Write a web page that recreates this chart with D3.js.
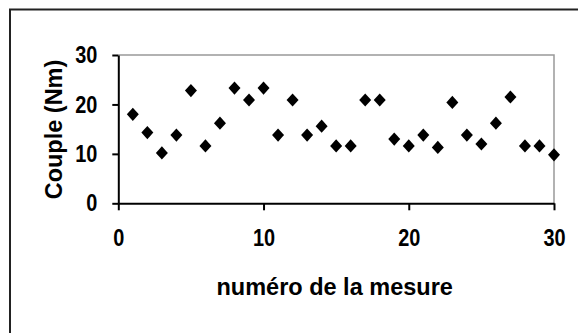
<!DOCTYPE html>
<html><head><meta charset="utf-8">
<script src="https://cdn.jsdelivr.net/npm/d3@7"></script>
<style>html,body{margin:0;padding:0;background:#fff;}svg{display:block;}</style>
</head><body>
<script>
const mesures = d3.range(1, 31);
const couple = [18, 14.3, 10.2, 13.8, 22.8, 11.6, 16.2, 23.3, 20.9, 23.3,
                13.8, 20.9, 13.8, 15.6, 11.6, 11.6, 20.9, 20.9, 13.0, 11.6,
                13.8, 11.3, 20.4, 13.8, 12.0, 16.2, 21.5, 11.6, 11.6, 9.8];
const xTicks = [0, 10, 20, 30];
const yTicks = [0, 10, 20, 30];
const xTitle = "numéro de la mesure";
const yTitle = "Couple (Nm)";

(function () {
const W = 578, H = 333;
const svg = d3.select("body").append("svg").attr("width", W).attr("height", H);
svg.append("rect").attr("width", W).attr("height", H).attr("fill", "#fff");

svg.append("path").attr("d", "M10,345V9.5H590").attr("fill", "none")
  .attr("stroke", "#222").attr("stroke-width", 2);

const pl = 118.3, pr = 554, pt = 55, pb = 203.3;
const x = d3.scaleLinear().domain([0, 30]).range([pl, pr]);
const y = d3.scaleLinear().domain([0, 30]).range([pb, pt]);

svg.append("path").attr("d", `M${pl},${pt}H${pr}V${pb}`)
  .attr("fill", "none").attr("stroke", "#999").attr("stroke-width", 1.5);

const font = "'Liberation Sans', Arial, sans-serif";
const sx = 0.83;

const xAxis = svg.append("g").attr("transform", `translate(0,${pb})`)
  .call(d3.axisBottom(x).tickValues(xTicks).tickSize(7).tickPadding(19).tickSizeOuter(0));
const yAxis = svg.append("g").attr("transform", `translate(${pl},0)`)
  .call(d3.axisLeft(y).tickValues(yTicks).tickSize(6).tickPadding(15).tickSizeOuter(0));
[xAxis, yAxis].forEach(g => {
  g.select(".domain").attr("stroke", "#000").attr("stroke-width", 2);
  g.selectAll(".tick line").attr("stroke", "#000").attr("stroke-width", 2);
  g.selectAll(".tick text").attr("fill", "#000").style("font-family", font)
    .style("font-weight", "bold").style("font-size", "24px");
});
xAxis.selectAll(".tick text").attr("dy", "0.71em").attr("transform", `scale(${sx},1)`);
yAxis.selectAll(".tick text").attr("x", -21 / sx).attr("transform", `scale(${sx},1)`);

const diamond = {
  draw(ctx, size) {
    const w = Math.sqrt(size) * 0.5, h = w * 1.1;
    ctx.moveTo(0, -h); ctx.lineTo(w, 0); ctx.lineTo(0, h); ctx.lineTo(-w, 0); ctx.closePath();
  }
};
svg.append("g").selectAll("path").data(mesures).join("path")
  .attr("transform", (d, i) => `translate(${x(d)},${y(couple[i])})`)
  .attr("d", d3.symbol().type(diamond).size(144)())
  .attr("fill", "#000");

svg.append("text").attr("x", (pl + pr) / 2 - 1.5).attr("y", 295)
  .attr("text-anchor", "middle").style("font-family", font).style("font-weight", "bold")
  .style("font-size", "23.5px").text(xTitle);

svg.append("text").attr("transform", `translate(62,129.5) rotate(-90)`)
  .attr("text-anchor", "middle").style("font-family", font).style("font-weight", "bold")
  .style("font-size", "23.5px").text(yTitle);
})();
</script>
</body></html>
